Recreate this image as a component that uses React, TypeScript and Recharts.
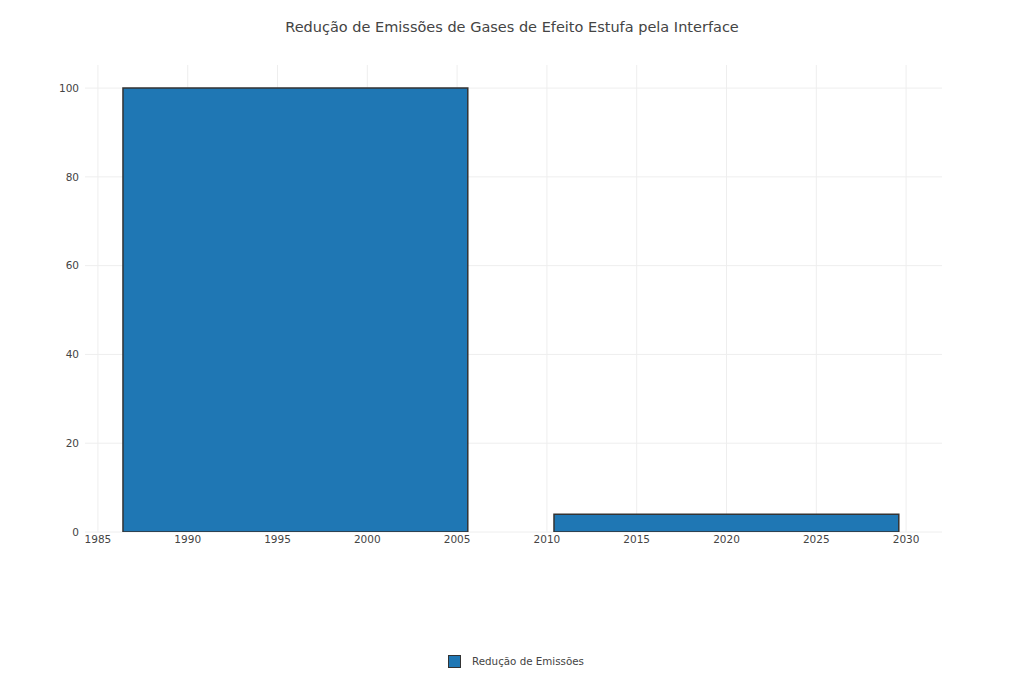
import { Bar, BarChart, CartesianGrid, Legend, XAxis, YAxis } from "recharts";

const anos = [1996, 2020];
const reducao = [100, 4];
const xTicks = [1985, 1990, 1995, 2000, 2005, 2010, 2015, 2020, 2025, 2030];
const yTicks = [0, 20, 40, 60, 80, 100];

const data = anos.map((ano, i) => ({ ano, valor: reducao[i] }));

const W = 1024;
const H = 683;
const margin = { top: 65, right: 82, left: 0, bottom: 12 };
const yAxisW = 85;
const xMin = 1984.28;
const xMax = 2032;
const plotW = W - margin.left - margin.right - yAxisW;
// plotly style bar width: 0.8 of the gap between bars (24 years)
const barSize = (19.2 * plotW) / (xMax - xMin);

const font = "'DejaVu Sans', Verdana, sans-serif";
const azul = "#1f77b4";

function LegendaBox() {
  return (
    <div
      style={{
        display: "flex",
        justifyContent: "center",
        alignItems: "center",
        fontFamily: font,
        fontSize: 10.3,
        color: "#444",
        height: 20,
        paddingLeft: 8,
      }}
    >
      <span
        style={{
          width: 11,
          height: 11,
          background: azul,
          border: "1px solid #333",
          marginRight: 11,
          display: "inline-block",
        }}
      />
      Redução de Emissões
    </div>
  );
}

export default function App() {
  return (
    <div
      style={{
        position: "absolute",
        left: 0,
        top: 0,
        width: W,
        height: H,
        background: "#fff",
      }}
    >
      <div
        style={{
          position: "absolute",
          top: 19,
          left: 0,
          width: W,
          textAlign: "center",
          fontFamily: font,
          fontSize: 14.5,
          color: "#444",
        }}
      >
        Redução de Emissões de Gases de Efeito Estufa pela Interface
      </div>
      <BarChart width={W} height={H} data={data} margin={margin}>
        <CartesianGrid stroke="#eee" strokeWidth={1} syncWithTicks />
        <XAxis
          dataKey="ano"
          type="number"
          domain={[xMin, xMax]}
          ticks={xTicks}
          allowDataOverflow
          axisLine={false}
          tickLine={false}
          tickSize={0}
          tickMargin={4}
          height={119}
          tick={{ fill: "#444", fontSize: 10.5, fontFamily: font }}
        />
        <YAxis
          type="number"
          domain={[0, 105.2]}
          ticks={yTicks}
          allowDataOverflow
          axisLine={false}
          tickLine={false}
          tickSize={0}
          tickMargin={6}
          width={yAxisW}
          tick={{ fill: "#444", fontSize: 10.5, fontFamily: font }}
        />
        <Legend
          verticalAlign="bottom"
          height={20}
          wrapperStyle={{ left: 0, width: W }}
          content={() => <LegendaBox />}
        />
        <Bar
          dataKey="valor"
          name="Redução de Emissões"
          fill={azul}
          stroke="#333"
          strokeWidth={1.5}
          barSize={barSize}
          isAnimationActive={false}
        />
      </BarChart>
    </div>
  );
}
